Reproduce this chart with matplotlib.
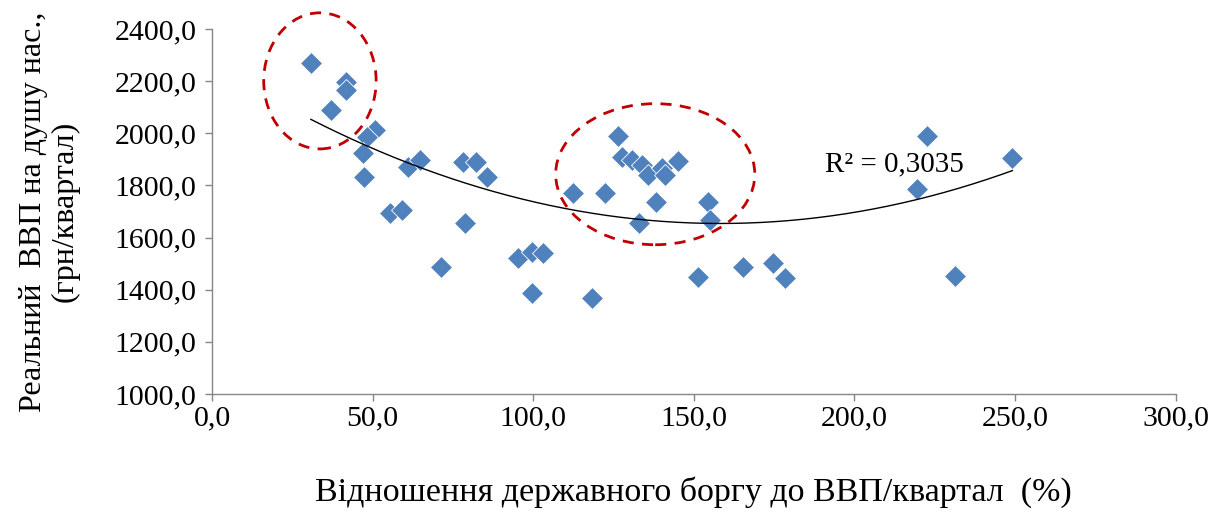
import numpy as np
import matplotlib
matplotlib.use("Agg")
import matplotlib.pyplot as plt
from matplotlib.patches import Ellipse
from matplotlib.ticker import FuncFormatter

plt.rcParams['font.family'] = ['Liberation Serif', 'DejaVu Serif']

# Debt-to-GDP ratio per quarter (%) and real GDP per capita (UAH/quarter)
debt_ratio = [30.8, 41.7, 41.7, 37.1, 50.8, 48.3, 47.0, 47.4, 61.0, 64.8,
              78.2, 82.2, 85.7, 55.5, 59.2, 78.8, 71.3, 95.3, 99.7, 103.1,
              99.7, 118.4, 112.5, 122.4, 126.5, 127.7, 130.8, 134.0, 135.8, 140.2,
              141.1, 145.2, 138.3, 133.0, 154.5, 155.1, 151.4, 165.4, 174.8, 178.5,
              231.2, 222.7, 249.2, 219.6]
gdp_pc = [2270, 2197, 2167, 2090, 2013, 1986, 1925, 1833, 1871, 1898,
          1891, 1891, 1833, 1695, 1706, 1656, 1488, 1522, 1545, 1541,
          1388, 1369, 1772, 1772, 1990, 1910, 1898, 1879, 1841, 1868,
          1841, 1894, 1737, 1656, 1737, 1668, 1449, 1488, 1503, 1445,
          1453, 1990, 1906, 1787]

x_ticks = [0, 50, 100, 150, 200, 250, 300]
y_ticks = [1000, 1200, 1400, 1600, 1800, 2000, 2200, 2400]
r2_text = "R² = 0,3035"

fig = plt.figure(figsize=(12.29, 5.13), dpi=100)
ax = fig.add_axes([0.1725, 0.232, 0.784, 0.7115])

ax.plot(debt_ratio, gdp_pc, linestyle='none', marker='D', markersize=11,
        markerfacecolor='#4F81BD', markeredgecolor='white', markeredgewidth=0.6,
        zorder=3)

# Second-order polynomial trend
coef = np.polyfit(debt_ratio, gdp_pc, 2)
xs = np.linspace(min(debt_ratio), max(debt_ratio), 300)
ax.plot(xs, np.polyval(coef, xs), color='black', linewidth=1.0, zorder=4)

ax.text(191, 1879, r2_text, fontsize=21, va='center', ha='left')

# Highlighted groups
for cx, cy, w, h in [(33.6, 2201, 35, 522), (138.0, 1843, 62, 541)]:
    ax.add_patch(Ellipse((cx, cy), w, h, fill=False, edgecolor='#C00000',
                         linestyle=(0, (4, 3)), linewidth=2.0, zorder=5,
                         clip_on=False))

ax.set_xlim(0, 300)
ax.set_ylim(1000, 2400)
ax.set_xticks(x_ticks)
ax.set_yticks(y_ticks)
fmt = FuncFormatter(lambda v, p: f"{v:.1f}".replace('.', ','))
ax.xaxis.set_major_formatter(fmt)
ax.yaxis.set_major_formatter(fmt)
ax.tick_params(axis='both', labelsize=21.5, direction='out', length=5,
               color='#868686', width=1)
ax.tick_params(axis='x', pad=3)
ax.tick_params(axis='y', pad=6)

for side in ('top', 'right'):
    ax.spines[side].set_visible(False)
for side in ('left', 'bottom'):
    ax.spines[side].set_color('#868686')
    ax.spines[side].set_linewidth(1)

ax.set_xlabel("Відношення державного боргу до ВВП/квартал  (%)", fontsize=24.5,
              va='top')
ax.xaxis.set_label_coords(0.5, -0.225)
ax.set_ylabel("Реальний  ВВП на душу нас.,\n(грн/квартал)", fontsize=23,
              linespacing=1.15)
ax.yaxis.set_label_coords(-0.137, 0.5)

fig.savefig("out.png", dpi=100)
